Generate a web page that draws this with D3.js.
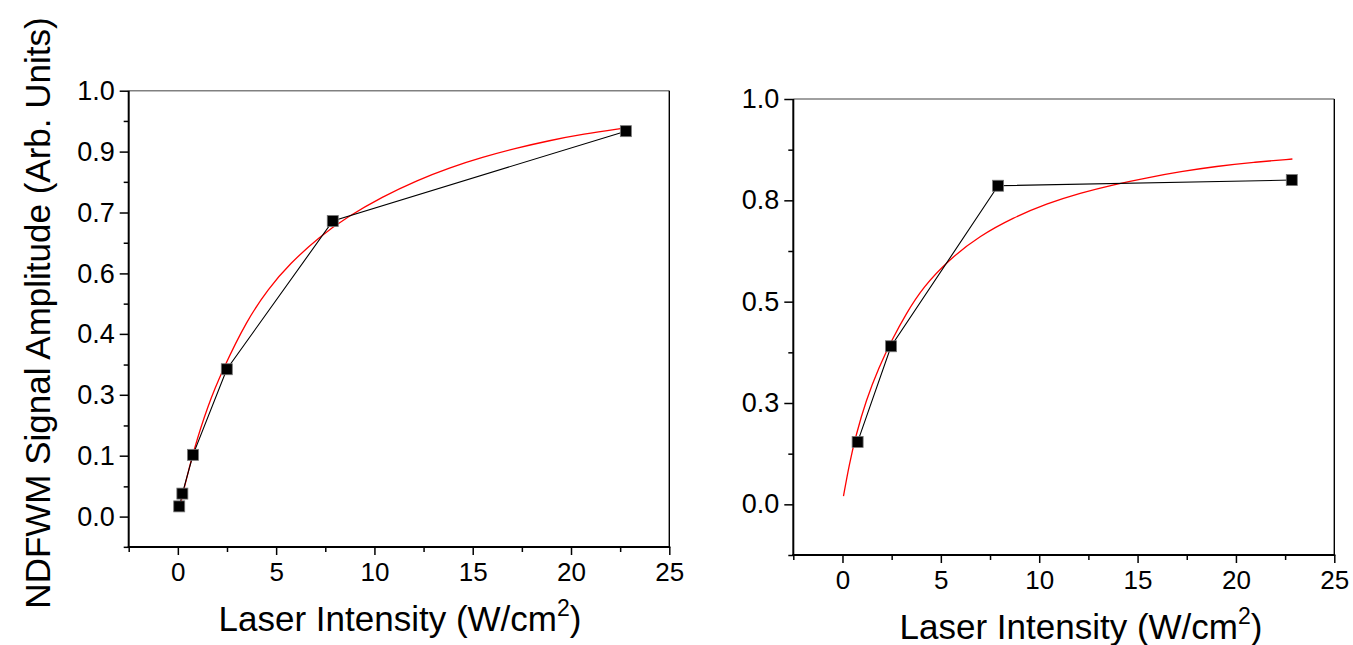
<!DOCTYPE html>
<html>
<head>
<meta charset="utf-8">
<script src="https://cdn.jsdelivr.net/npm/d3@7"></script>
<style>
  html, body { margin: 0; padding: 0; background: #fff; }
  svg { display: block; }
  text { font-family: "Liberation Sans", Arial, Helvetica, sans-serif; fill: #000; }
</style>
</head>
<body>
<svg id="chart" width="1353" height="645"></svg>
<script>
// ---------------- DATA ----------------
// Left panel: measured points
const leftX = [0.07, 0.23, 0.77, 2.49, 7.88, 22.79];
const leftY = [0.024, 0.054, 0.145, 0.346, 0.694, 0.905];
// Left panel: red fitted curve
const leftFitX = [0.07, 0.3, 0.8, 1.5, 2.3, 3.5, 4.6, 5.7, 7.2, 8.6, 10.4, 12.2, 13.8, 15.5, 17.2, 18.9, 20.6, 22.7];
const leftFitY = [0.015, 0.064, 0.155, 0.258, 0.347, 0.46, 0.535, 0.594, 0.657, 0.703, 0.751, 0.790, 0.819, 0.844, 0.865, 0.883, 0.898, 0.912];
// Left panel y ticks (evenly spaced; labels as printed)
const leftYTicks = [0, 0.143, 0.286, 0.429, 0.571, 0.714, 0.857, 1.0];
const leftYTickLabels = ["0.0", "0.1", "0.3", "0.4", "0.6", "0.7", "0.9", "1.0"];
const leftYMinor = [-0.071, 0.071, 0.214, 0.357, 0.5, 0.643, 0.786, 0.929];

// Right panel: measured points
const rightX = [0.77, 2.47, 7.91, 22.84];
const rightY = [0.154, 0.39, 0.786, 0.80];
// Right panel: red fitted curve
const rightFitX = [0.05, 0.34, 0.68, 1.19, 1.87, 2.5, 3.23, 4.08, 5.44, 6.97, 8.67, 10.38, 12.08, 13.8, 15.5, 17.2, 19.0, 20.9, 22.87];
const rightFitY = [0.02, 0.098, 0.17, 0.256, 0.34, 0.405, 0.47, 0.535, 0.605, 0.662, 0.707, 0.742, 0.768, 0.789, 0.806, 0.821, 0.834, 0.844, 0.852];
const rightYTicks = [0, 0.25, 0.5, 0.75, 1.0];
const rightYTickLabels = ["0.0", "0.3", "0.5", "0.8", "1.0"];
const rightYMinor = [-0.125, 0.125, 0.375, 0.625, 0.875];

// Shared x axis
const xTicks = [0, 5, 10, 15, 20, 25];
const xTickLabels = ["0", "5", "10", "15", "20", "25"];
const xMinor = [-2.5, 2.5, 7.5, 12.5, 17.5, 22.5];

const yLabel = "NDFWM Signal Amplitude (Arb. Units)";
const xLabelMain = "Laser Intensity (W/cm";
const xLabelSup = "2";

// ---------------- DRAW ----------------
const svg = d3.select("#chart");

function panel(cfg) {
  const x = d3.scaleLinear().domain([-2.5, 25]).range([cfg.x0, cfg.x1]);
  const y = d3.scaleLinear().domain(cfg.yDomain).range([cfg.y1, cfg.y0]);
  const g = svg.append("g");

  // frame: top (gray) and right (black)
  g.append("line").attr("x1", cfg.x0).attr("x2", cfg.x1).attr("y1", cfg.y0).attr("y2", cfg.y0)
    .attr("stroke", "#808080").attr("stroke-width", 1.6);
  g.append("line").attr("x1", cfg.x1).attr("x2", cfg.x1).attr("y1", cfg.y0).attr("y2", cfg.y1)
    .attr("stroke", "#000").attr("stroke-width", 1.4);

  // y axis
  const yAxis = d3.axisLeft(y).tickValues(cfg.yTicks).tickSize(9).tickPadding(5)
    .tickFormat((d, i) => cfg.yLabels[i]);
  const ya = g.append("g").attr("transform", `translate(${cfg.x0},0)`).call(yAxis);
  ya.select(".domain").remove();
  ya.selectAll(".tick line").attr("stroke-width", 1.5);
  ya.selectAll(".tick text").attr("font-size", 27).attr("font-family", "Liberation Sans, Arial, sans-serif");
  const yMin = g.append("g").attr("transform", `translate(${cfg.x0},0)`)
    .call(d3.axisLeft(y).tickValues(cfg.yMinor).tickSize(5).tickFormat(""));
  yMin.select(".domain").remove();
  yMin.selectAll(".tick line").attr("stroke-width", 1.5);
  g.append("line").attr("x1", cfg.x0).attr("x2", cfg.x0).attr("y1", cfg.y0).attr("y2", cfg.y1 + 1)
    .attr("stroke", "#000").attr("stroke-width", 2);

  // x axis
  const xAxis = d3.axisBottom(x).tickValues(xTicks).tickSize(8).tickPadding(8)
    .tickFormat((d, i) => xTickLabels[i]);
  const xa = g.append("g").attr("transform", `translate(0,${cfg.y1})`).call(xAxis);
  xa.select(".domain").remove();
  xa.selectAll(".tick line").attr("stroke-width", 1.5);
  xa.selectAll(".tick text").attr("font-size", 26).attr("font-family", "Liberation Sans, Arial, sans-serif");
  const xMin = g.append("g").attr("transform", `translate(0,${cfg.y1})`)
    .call(d3.axisBottom(x).tickValues(xMinor).tickSize(5).tickFormat(""));
  xMin.select(".domain").remove();
  xMin.selectAll(".tick line").attr("stroke-width", 1.5);
  g.append("line").attr("x1", cfg.x0 - 1).attr("x2", cfg.x1 + 1).attr("y1", cfg.y1).attr("y2", cfg.y1)
    .attr("stroke", "#000").attr("stroke-width", 2);

  // fit curve
  const fit = cfg.fitX.map((v, i) => [v, cfg.fitY[i]]);
  g.append("path").datum(fit)
    .attr("d", d3.line().x(d => x(d[0])).y(d => y(d[1])).curve(d3.curveBasis))
    .attr("fill", "none").attr("stroke", "#ff0000").attr("stroke-width", 1.3);

  // data line
  const pts = cfg.px.map((v, i) => [v, cfg.py[i]]);
  g.append("path").datum(pts)
    .attr("d", d3.line().x(d => x(d[0])).y(d => y(d[1])))
    .attr("fill", "none").attr("stroke", "#000").attr("stroke-width", 1.1);

  // markers
  const s = 11;
  g.selectAll("rect.pt").data(pts).join("rect").attr("class", "pt")
    .attr("x", d => x(d[0]) - s / 2).attr("y", d => y(d[1]) - s / 2)
    .attr("width", s).attr("height", s)
    .attr("fill", "#000").attr("stroke", "#777").attr("stroke-width", 0.8);

  // x label
  const t = g.append("text").attr("x", cfg.xLabelX).attr("y", cfg.xLabelY)
    .attr("text-anchor", "middle").attr("font-size", 35);
  t.append("tspan").text(xLabelMain);
  t.append("tspan").text(xLabelSup).attr("font-size", 23).attr("dy", -15);
  t.append("tspan").text(")").attr("dy", 15);
}

panel({
  x0: 128.7, x1: 669.3, y0: 90.7, y1: 547,
  yDomain: [-0.0714, 1.0], yTicks: leftYTicks, yLabels: leftYTickLabels, yMinor: leftYMinor,
  px: leftX, py: leftY, fitX: leftFitX, fitY: leftFitY,
  xLabelX: 400, xLabelY: 631
});

panel({
  x0: 793.3, x1: 1334.3, y0: 99, y1: 555,
  yDomain: [-0.125, 1.0], yTicks: rightYTicks, yLabels: rightYTickLabels, yMinor: rightYMinor,
  px: rightX, py: rightY, fitX: rightFitX, fitY: rightFitY,
  xLabelX: 1081, xLabelY: 639
});

// left y label
svg.append("text")
  .attr("transform", "translate(50,313) rotate(-90)")
  .attr("text-anchor", "middle").attr("font-size", 35)
  .text(yLabel);
</script>
</body>
</html>
